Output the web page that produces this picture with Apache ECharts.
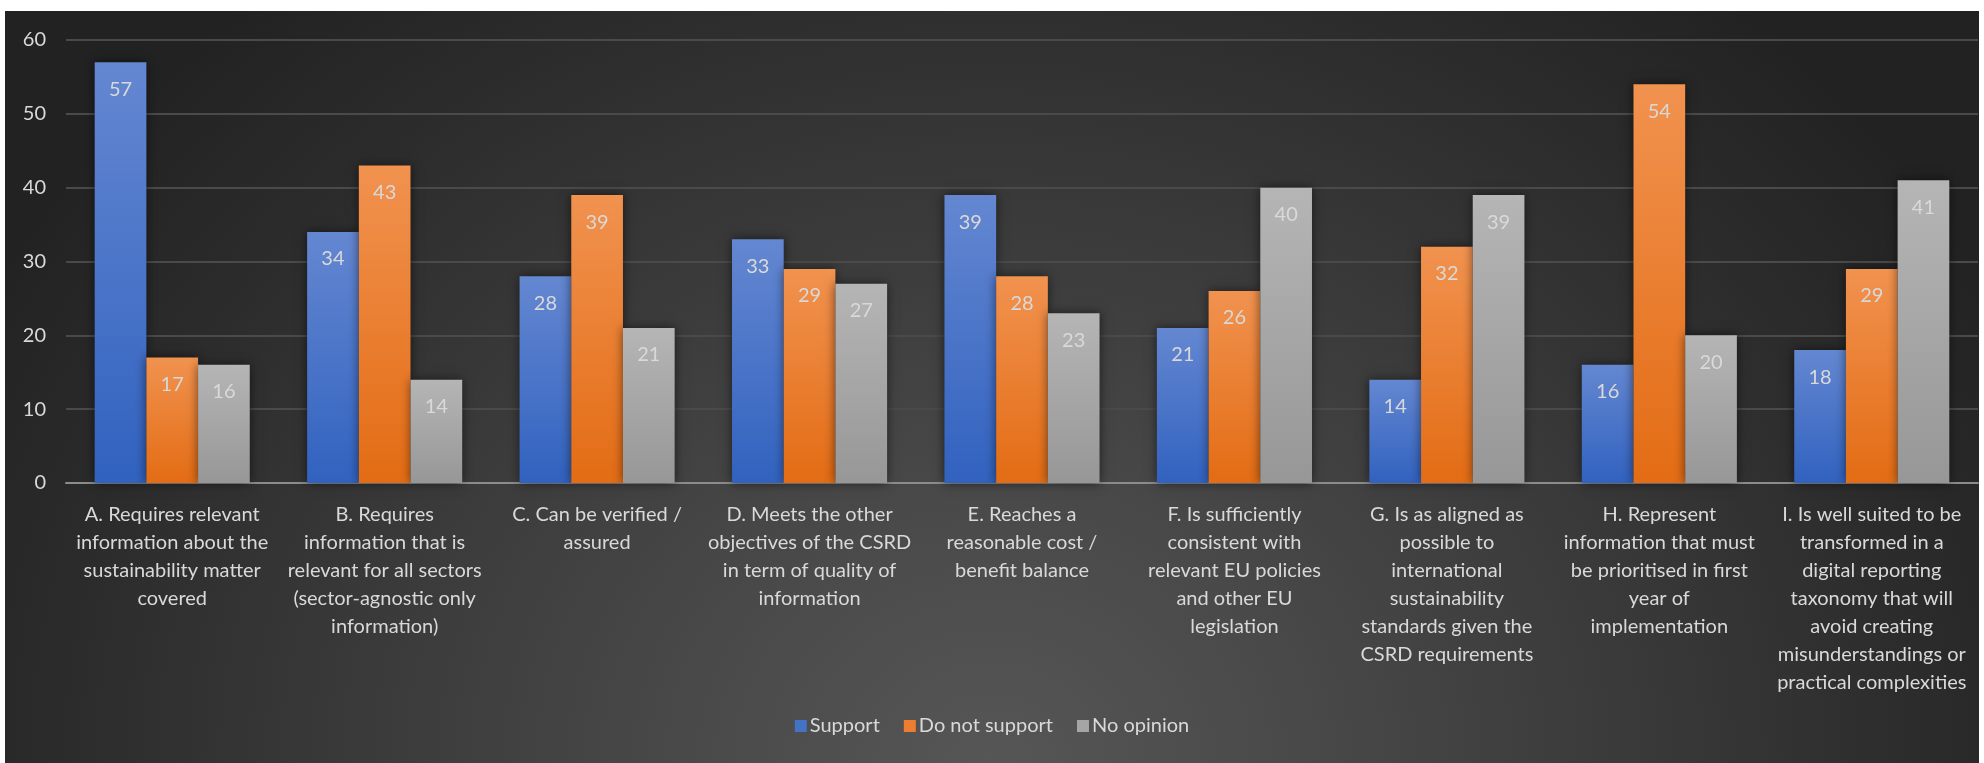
<!DOCTYPE html>
<html><head><meta charset="utf-8">
<script src="https://cdn.jsdelivr.net/npm/echarts@6/dist/echarts.min.js"></script>
<style>
html,body{margin:0;padding:0;background:#fff;}
#panel{position:absolute;left:5px;top:11px;width:1974px;height:752px;
background:radial-gradient(ellipse 1150px 1000px at 50% 100%, #565656 0%, #4a4a4a 25%, #3a3a3a 55%, #2c2c2c 80%, #222 100%);}
#chart{position:absolute;left:0;top:0;width:1984px;height:763px;}
</style></head>
<body>
<div id="panel"></div>
<div id="chart"></div>
<script>
const categories = [
  "A. Requires relevant\ninformation about the\nsustainability matter\ncovered",
  "B. Requires\ninformation that is\nrelevant for all sectors\n(sector-agnostic only\ninformation)",
  "C. Can be verified /\nassured",
  "D. Meets the other\nobjectives of the CSRD\nin term of quality of\ninformation",
  "E. Reaches a\nreasonable cost /\nbenefit balance",
  "F. Is sufficiently\nconsistent with\nrelevant EU policies\nand other EU\nlegislation",
  "G. Is as aligned as\npossible to\ninternational\nsustainability\nstandards given the\nCSRD requirements",
  "H. Represent\ninformation that must\nbe prioritised in first\nyear of\nimplementation",
  "I. Is well suited to be\ntransformed in a\ndigital reporting\ntaxonomy that will\navoid creating\nmisunderstandings or\npractical complexities"
];
const seriesNames = ["Support", "Do not support", "No opinion"];
const support = [57, 34, 28, 33, 39, 21, 14, 16, 18];
const doNotSupport = [17, 43, 39, 29, 28, 26, 32, 54, 29];
const noOpinion = [16, 14, 21, 27, 23, 40, 39, 20, 41];
const yTicks = [0, 10, 20, 30, 40, 50, 60];

const txt = '#d9d9d9';
const font = 'Lato, "Open Sans", sans-serif';
function grad(top, bottom){
  return {type:'linear',x:0,y:0,x2:0,y2:1,colorStops:[{offset:0,color:top},{offset:1,color:bottom}]};
}
const colors = [grad('#6487d1','#3162bf'), grad('#f1924f','#e36c14'), grad('#b5b5b5','#979797')];
const legendColors = ['#4472c4','#ed7d31','#a5a5a5'];
function mk(name, data, i){
  return {
    name, type:'bar', data, barGap:'0%', barCategoryGap:'27%',
    itemStyle:{color:colors[i], shadowColor:'rgba(0,0,0,0.55)', shadowBlur:10},
    label:{show:true, position:'insideTop', distance:17, color:txt, fontSize:20, fontFamily:font},
    emphasis:{disabled:true}
  };
}
const chart = echarts.init(document.getElementById('chart'));
chart.setOption({
  backgroundColor:'transparent',
  animation:false,
  color:legendColors,
  grid:{left:66, right:6, top:40, bottom:280, containLabel:false},
  legend:{
    bottom:22, left:'center', itemWidth:12, itemHeight:12, itemGap:24,
    icon:'rect',
    textStyle:{color:txt, fontSize:20, fontFamily:font, padding:[0,0,0,-2]},
    data:seriesNames.map((n,i)=>({name:n, itemStyle:{color:legendColors[i]}}))
  },
  xAxis:{
    type:'category', data:categories,
    axisLine:{lineStyle:{color:'#8c8c8c', width:2}},
    axisTick:{show:false},
    axisLabel:{color:txt, fontSize:20, fontFamily:font, lineHeight:28, margin:18, interval:0, align:'center'}
  },
  yAxis:{
    type:'value', min:yTicks[0], max:yTicks[yTicks.length-1], interval:10,
    axisLine:{show:false}, axisTick:{show:false},
    axisLabel:{color:txt, fontSize:20, fontFamily:font, margin:20},
    splitLine:{lineStyle:{color:'#4a4a4a', width:2}}
  },
  series:[mk(seriesNames[0], support, 0), mk(seriesNames[1], doNotSupport, 1), mk(seriesNames[2], noOpinion, 2)]
});
</script>
</body></html>
